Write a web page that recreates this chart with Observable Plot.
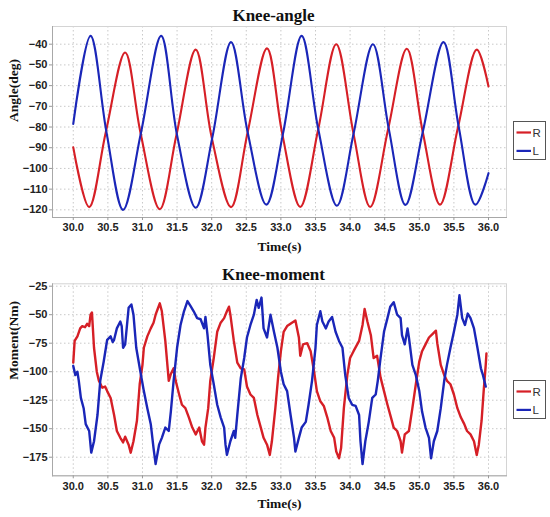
<!DOCTYPE html>
<html>
<head>
<meta charset="utf-8">
<script src="https://cdn.jsdelivr.net/npm/d3@7"></script>
<script src="https://cdn.jsdelivr.net/npm/@observablehq/plot@0.6"></script>
<style>
  html, body { margin: 0; padding: 0; background: #fff; }
  #wrap { position: relative; width: 550px; height: 517px; overflow: hidden; }
  .panel { position: absolute; left: 0; }
  .legend { position: absolute; }
</style>
</head>
<body>
<div id="wrap"></div>
<script>
// ---------- shared ----------
const xTicks = [30.0, 30.5, 31.0, 31.5, 32.0, 32.5, 33.0, 33.5, 34.0, 34.5, 35.0, 35.5, 36.0];
const seriesNames = ["R", "L"];
const seriesColors = ["#d61f26", "#1a26b8"];

// ---------- Knee-angle ----------
const angleTitle = "Knee-angle";
const angleYLabel = "Angle(deg)";
const angleYTicks = [-40, -50, -60, -70, -80, -90, -100, -110, -120];
const angleRTime = [30.00, 30.23, 30.47, 30.75, 30.97, 31.25, 31.49, 31.77, 32.00, 32.28, 32.52, 32.80, 33.02, 33.28, 33.54, 33.80, 34.05, 34.29, 34.55, 34.82, 35.05, 35.30, 35.56, 35.83, 36.00];
const angleRValue = [-89.8, -118.7, -82.5, -44.0, -82.5, -119.7, -84.0, -42.6, -85.0, -118.7, -82.5, -42.0, -83.3, -118.6, -81.0, -40.0, -83.3, -118.6, -81.0, -42.2, -82.4, -117.5, -80.0, -42.6, -60.4];
const angleLTime = [30.00, 30.25, 30.48, 30.72, 30.98, 31.27, 31.50, 31.77, 32.01, 32.28, 32.52, 32.79, 33.03, 33.30, 33.54, 33.81, 34.05, 34.33, 34.56, 34.80, 35.05, 35.35, 35.57, 35.81, 36.00];
const angleLValue = [-78.5, -36.0, -82.5, -120.0, -82.5, -36.0, -84.0, -119.0, -85.0, -39.0, -82.5, -117.5, -83.3, -36.0, -81.0, -118.0, -83.3, -40.0, -81.0, -117.6, -82.4, -39.0, -80.0, -117.5, -102.3];

// ---------- Knee-moment ----------
const momentTitle = "Knee-moment";
const momentYLabel = "Moment(Nm)";
const momentYTicks = [-25, -50, -75, -100, -125, -150, -175];
const momentRTime = [30.00, 30.02, 30.06, 30.10, 30.13, 30.17, 30.20, 30.23, 30.25, 30.27, 30.30, 30.34, 30.37, 30.42, 30.46, 30.49, 30.54, 30.59, 30.63, 30.68, 30.72, 30.75, 30.80, 30.83, 30.87, 30.92, 30.96, 31.00, 31.02, 31.07, 31.12, 31.16, 31.19, 31.22, 31.25, 31.28, 31.33, 31.38, 31.41, 31.45, 31.48, 31.53, 31.57, 31.62, 31.67, 31.72, 31.77, 31.82, 31.86, 31.89, 31.91, 31.95, 31.98, 32.03, 32.08, 32.13, 32.18, 32.22, 32.25, 32.27, 32.32, 32.37, 32.42, 32.47, 32.51, 32.56, 32.61, 32.66, 32.71, 32.75, 32.80, 32.84, 32.87, 32.92, 32.96, 33.00, 33.04, 33.09, 33.16, 33.21, 33.26, 33.28, 33.32, 33.38, 33.43, 33.48, 33.52, 33.57, 33.62, 33.67, 33.72, 33.77, 33.80, 33.84, 33.87, 33.91, 33.96, 34.00, 34.05, 34.13, 34.18, 34.21, 34.25, 34.30, 34.34, 34.39, 34.44, 34.49, 34.54, 34.59, 34.63, 34.68, 34.73, 34.75, 34.79, 34.85, 34.90, 34.95, 35.00, 35.04, 35.09, 35.14, 35.19, 35.24, 35.26, 35.31, 35.36, 35.40, 35.45, 35.50, 35.55, 35.60, 35.65, 35.69, 35.74, 35.79, 35.83, 35.86, 35.90, 35.93, 35.96, 35.97];
const momentRValue = [-92, -73, -69, -62, -60, -61, -58, -60, -50, -48, -79, -100, -108, -114, -113, -117, -123, -138, -152, -158, -162, -157, -164, -171, -161, -143, -111, -94, -79, -69, -62, -57, -50, -45, -40, -47, -73, -108, -102, -97, -108, -120, -129, -132, -140, -149, -155, -149, -161, -164, -149, -132, -108, -88, -65, -57, -53, -47, -43, -50, -73, -92, -97, -98, -113, -120, -123, -138, -149, -158, -164, -173, -161, -132, -105, -82, -65, -60, -57, -55, -70, -86, -76, -75, -82, -100, -117, -126, -130, -140, -152, -158, -170, -176, -167, -132, -103, -88, -82, -73, -59, -45, -56, -68, -88, -86, -105, -117, -129, -140, -149, -152, -161, -171, -155, -152, -132, -111, -91, -82, -76, -70, -67, -64, -75, -94, -103, -108, -111, -120, -132, -140, -146, -152, -155, -161, -173, -164, -143, -117, -94, -84];
const momentLTime = [30.00, 30.03, 30.06, 30.08, 30.11, 30.15, 30.18, 30.23, 30.26, 30.30, 30.35, 30.39, 30.44, 30.49, 30.54, 30.57, 30.59, 30.63, 30.68, 30.70, 30.72, 30.75, 30.80, 30.84, 30.87, 30.91, 30.97, 31.02, 31.07, 31.12, 31.16, 31.19, 31.24, 31.28, 31.33, 31.38, 31.41, 31.45, 31.50, 31.55, 31.60, 31.65, 31.70, 31.74, 31.79, 31.84, 31.89, 31.91, 31.94, 31.98, 32.03, 32.08, 32.13, 32.18, 32.20, 32.22, 32.27, 32.32, 32.34, 32.37, 32.42, 32.47, 32.51, 32.56, 32.61, 32.65, 32.68, 32.72, 32.75, 32.80, 32.85, 32.90, 32.95, 33.00, 33.04, 33.09, 33.14, 33.19, 33.21, 33.26, 33.30, 33.36, 33.40, 33.45, 33.50, 33.52, 33.57, 33.60, 33.65, 33.69, 33.74, 33.79, 33.84, 33.89, 33.93, 33.98, 34.03, 34.08, 34.13, 34.15, 34.18, 34.22, 34.27, 34.32, 34.37, 34.40, 34.44, 34.49, 34.54, 34.58, 34.63, 34.68, 34.73, 34.75, 34.79, 34.83, 34.85, 34.90, 34.95, 35.00, 35.04, 35.09, 35.14, 35.17, 35.21, 35.26, 35.31, 35.36, 35.40, 35.45, 35.50, 35.55, 35.58, 35.62, 35.66, 35.70, 35.74, 35.79, 35.84, 35.89, 35.92, 35.96];
const momentLValue = [-95, -103, -100, -108, -123, -132, -146, -152, -171, -161, -138, -108, -91, -72, -69, -74, -72, -62, -56, -60, -79, -76, -44, -41, -50, -79, -100, -117, -132, -146, -167, -181, -164, -158, -149, -152, -135, -108, -79, -59, -47, -38, -43, -47, -53, -54, -62, -52, -68, -94, -111, -129, -140, -149, -164, -173, -161, -152, -158, -138, -106, -88, -70, -59, -50, -37, -44, -35, -62, -70, -50, -65, -79, -100, -111, -117, -138, -158, -170, -158, -149, -144, -129, -108, -79, -59, -47, -56, -62, -56, -52, -65, -73, -79, -103, -123, -129, -130, -138, -161, -181, -161, -144, -123, -120, -108, -88, -65, -53, -43, -39, -50, -53, -68, -76, -62, -70, -94, -103, -117, -135, -149, -158, -176, -161, -152, -132, -108, -94, -79, -65, -50, -33, -53, -59, -49, -53, -62, -79, -97, -103, -113];

function toRows(times, values, name) {
  return times.map((t, i) => ({t, v: values[i], name}));
}

const serif = "'Liberation Serif', 'Times New Roman', serif";

function chart(cfg) {
  const rows = [
    ...toRows(cfg.rTime, cfg.rValue, seriesNames[0]),
    ...toRows(cfg.lTime, cfg.lValue, seriesNames[1])
  ];
  return Plot.plot({
    width: 550,
    height: cfg.height,
    marginLeft: 52,
    marginRight: 44,
    marginTop: cfg.marginTop,
    marginBottom: cfg.marginBottom,
    style: {fontFamily: "'Liberation Sans', Arial, sans-serif", fontSize: "11px", fontWeight: "bold", background: "#fff"},
    x: {domain: [29.7, 36.26], label: null},
    y: {domain: cfg.yDomain, label: null},
    color: {domain: seriesNames, range: seriesColors},
    marks: [
      Plot.gridX(xTicks, {stroke: "#c8c8c8", strokeOpacity: 1, strokeDasharray: "1.5,2.5"}),
      Plot.gridY(cfg.yTicks, {stroke: "#c8c8c8", strokeOpacity: 1, strokeDasharray: "1.5,2.5"}),
      Plot.frame({stroke: "#d4d4d4"}),
      Plot.frame({anchor: "left", stroke: "#a8a8a8"}),
      Plot.frame({anchor: "bottom", stroke: "#a8a8a8"}),
      Plot.axisX(xTicks, {tickFormat: d3.format(".1f"), tickSize: 3, tickPadding: 3, stroke: "#999", fill: "#222", label: null}),
      Plot.axisY(cfg.yTicks, {tickSize: 3, tickPadding: 2, stroke: "#999", fill: "#222", label: null}),
      Plot.line(rows, {x: "t", y: "v", z: "name", stroke: "name", strokeWidth: cfg.strokeWidth, curve: cfg.curve}),
      Plot.text([cfg.title], {frameAnchor: "top", lineAnchor: "middle", dx: -6, dy: cfg.titleDy, text: d => d,
        fontFamily: serif, fontWeight: "bold", fontSize: 17, fill: "#111"}),
      Plot.text(["Time(s)"], {frameAnchor: "bottom", lineAnchor: "middle", dy: cfg.xLabelDy, text: d => d,
        fontFamily: serif, fontWeight: "bold", fontSize: 13.5, fill: "#111"}),
      Plot.text([cfg.yLabel], {frameAnchor: "left", lineAnchor: "middle", dx: -39, rotate: -90, text: d => d,
        fontFamily: serif, fontWeight: "bold", fontSize: 13.5, fill: "#111"})
    ]
  });
}

function legend(top) {
  const ns = "http://www.w3.org/2000/svg";
  const svg = document.createElementNS(ns, "svg");
  svg.setAttribute("width", 33);
  svg.setAttribute("height", 39);
  svg.setAttribute("class", "legend");
  svg.style.left = "513px";
  svg.style.top = top + "px";
  const rect = document.createElementNS(ns, "rect");
  rect.setAttribute("x", 0.5); rect.setAttribute("y", 0.5);
  rect.setAttribute("width", 32); rect.setAttribute("height", 38);
  rect.setAttribute("fill", "#fff"); rect.setAttribute("stroke", "#555");
  svg.appendChild(rect);
  seriesNames.forEach((name, i) => {
    const y = 11.5 + i * 18.4;
    const line = document.createElementNS(ns, "line");
    line.setAttribute("x1", 3.5); line.setAttribute("x2", 18);
    line.setAttribute("y1", y); line.setAttribute("y2", y);
    line.setAttribute("stroke", seriesColors[i]); line.setAttribute("stroke-width", 2.2);
    svg.appendChild(line);
    const txt = document.createElementNS(ns, "text");
    txt.setAttribute("x", 19.5); txt.setAttribute("y", y + 4);
    txt.setAttribute("font-family", "'Liberation Sans', Arial, sans-serif");
    txt.setAttribute("font-size", 11.5);
    txt.setAttribute("fill", "#333");
    txt.textContent = name;
    svg.appendChild(txt);
  });
  return svg;
}

const wrap = document.getElementById("wrap");

const top1 = chart({
  title: angleTitle, yLabel: angleYLabel, yTicks: angleYTicks,
  yDomain: [-123.7, -31.45],
  rTime: angleRTime, rValue: angleRValue, lTime: angleLTime, lValue: angleLValue,
  curve: "catmull-rom", strokeWidth: 2.1, height: 258, marginTop: 26, marginBottom: 41,
  titleDy: -11, xLabelDy: 29.5
});
const p1 = document.createElement("div");
p1.className = "panel"; p1.style.top = "0px";
p1.appendChild(top1);
wrap.appendChild(p1);

const bot = chart({
  title: momentTitle, yLabel: momentYLabel, yTicks: momentYTicks,
  yDomain: [-191.3, -22.9],
  rTime: momentRTime, rValue: momentRValue, lTime: momentLTime, lValue: momentLValue,
  curve: "linear", strokeWidth: 2.4, height: 259, marginTop: 25.3, marginBottom: 41.7,
  titleDy: -9, xLabelDy: 27.5
});
const p2 = document.createElement("div");
p2.className = "panel"; p2.style.top = "258px";
p2.appendChild(bot);
wrap.appendChild(p2);

wrap.appendChild(legend(121));
wrap.appendChild(legend(380));
</script>
</body>
</html>
